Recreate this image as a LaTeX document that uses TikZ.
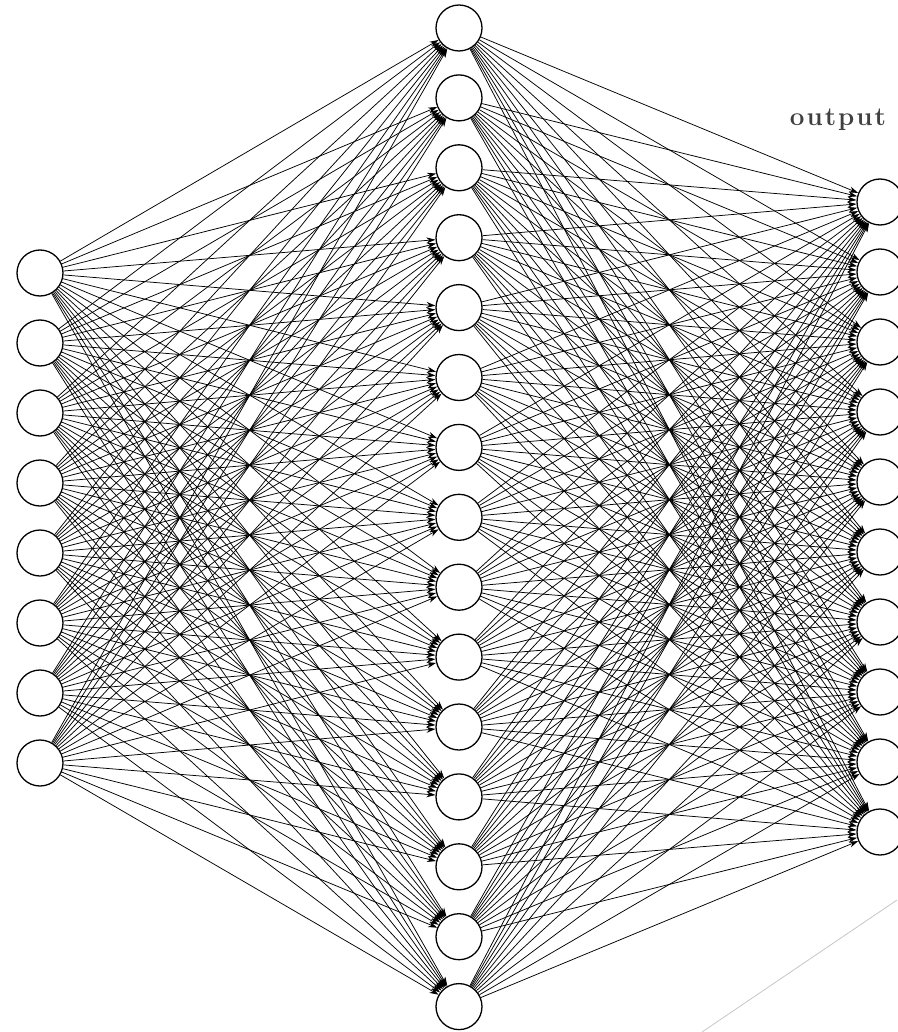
\documentclass[tikz,border=0pt]{standalone}
\usetikzlibrary{arrows.meta}
\newcommand{\spacedword}{o\kern2pt u\kern2pt t\kern2pt p\kern2pt u\kern2pt t}
\begin{document}
\begin{tikzpicture}[x=1pt,y=-1pt,
  neuron/.style={circle,draw,line width=1.3pt,minimum size=46pt,inner sep=0pt,fill=white},
  edge/.style={line width=0.75pt,-{Stealth[length=9pt,width=6pt]}},
  lbl/.style={font=\fontsize{26}{28}\selectfont\bfseries,text=black!75}]
\useasboundingbox (0,0) rectangle (897,1032);
\draw[gray!45,line width=0.8pt] (702,1032) coordinate (g1) -- (897,900) coordinate (g2);
\foreach \i in {0,...,7} \node[neuron] (I\i) at (40,{273+70*\i}) {};
\foreach \i in {0,...,14} \node[neuron] (H\i) at (459,{28+69.9*\i}) {};
\foreach \i in {0,...,9} \node[neuron] (O\i) at (880,{202+70*\i}) {};
\foreach \i in {0,...,7} \foreach \j in {0,...,14} \draw[edge] (I\i) -- (H\j);
\foreach \i in {0,...,14} \foreach \j in {0,...,9} \draw[edge] (H\i) -- (O\j);
\node[lbl] (out) at (838,120) {\spacedword};
\end{tikzpicture}
\end{document}
